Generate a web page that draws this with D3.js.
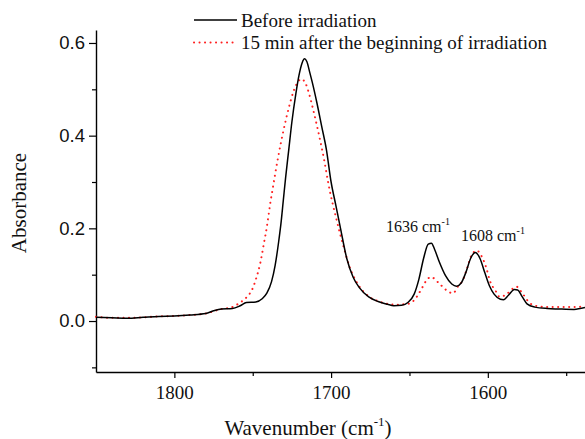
<!DOCTYPE html>
<html>
<head>
<meta charset="utf-8">
<script src="https://cdn.jsdelivr.net/npm/d3@7"></script>
<style>
  body { margin: 0; background: #fff; }
  .serif { font-family: "Liberation Serif", "Times New Roman", serif; }
  .sans { font-family: "Liberation Sans", Arial, sans-serif; }
</style>
</head>
<body>
<div id="chart"></div>
<script>
// before irradiation (black solid)
const beforeWn = [1850, 1840, 1830, 1820, 1810, 1800, 1790, 1780, 1775, 1770, 1763, 1758, 1754, 1748, 1744, 1741,
  1738, 1735.7, 1733.5, 1732, 1730.5, 1729, 1727, 1725, 1722.5, 1720.5, 1718.5, 1717, 1715.5, 1713.5, 1712, 1709,
  1706, 1703, 1700, 1697, 1694, 1690, 1686, 1682, 1676, 1670, 1664, 1660, 1655, 1651, 1647, 1644, 1641, 1638,
  1636, 1634, 1631, 1627, 1623, 1620, 1617, 1614, 1611, 1608, 1605, 1602, 1599, 1596, 1592, 1590, 1587, 1583,
  1581, 1578, 1575, 1570, 1562, 1555, 1545, 1538];
const beforeAbs = [0.008, 0.007, 0.006, 0.008, 0.010, 0.011, 0.013, 0.016, 0.022, 0.026, 0.027, 0.033, 0.040, 0.041, 0.048, 0.060,
  0.085, 0.12, 0.17, 0.21, 0.26, 0.31, 0.37, 0.43, 0.49, 0.53, 0.557, 0.566, 0.56, 0.535, 0.515, 0.47,
  0.42, 0.37, 0.30, 0.25, 0.20, 0.135, 0.095, 0.072, 0.052, 0.042, 0.036, 0.033, 0.034, 0.040, 0.058, 0.09, 0.135, 0.166,
  0.168, 0.155, 0.128, 0.098, 0.080, 0.075, 0.082, 0.105, 0.135, 0.148, 0.135, 0.105, 0.076, 0.058, 0.047, 0.046, 0.055, 0.068,
  0.067, 0.052, 0.037, 0.030, 0.027, 0.026, 0.025, 0.029];

// 15 min after the beginning of irradiation (red dotted)
const afterWn = [1850, 1840, 1830, 1820, 1810, 1800, 1790, 1780, 1775, 1770, 1764, 1758, 1753.7, 1750.5, 1748, 1745,
  1743, 1741, 1739, 1736.8, 1734, 1730.4, 1727, 1723.5, 1721, 1719, 1716.6, 1714, 1711, 1707, 1704, 1701.7,
  1696.4, 1692, 1688, 1683, 1676, 1670, 1664, 1658, 1654, 1649.7, 1645.4, 1642.2, 1639.5, 1636.3, 1631, 1626.6,
  1622.3, 1618.9, 1616, 1613.6, 1610.4, 1607, 1604, 1601, 1598.7, 1595, 1592.4, 1588, 1584, 1581.7, 1578, 1573,
  1568, 1560, 1550, 1538];
const afterAbs = [0.009, 0.007, 0.007, 0.008, 0.010, 0.011, 0.013, 0.016, 0.021, 0.026, 0.029, 0.040, 0.052, 0.067, 0.09, 0.128,
  0.165, 0.203, 0.25, 0.295, 0.35, 0.411, 0.46, 0.50, 0.517, 0.522, 0.515, 0.49, 0.45, 0.39, 0.34, 0.296,
  0.217, 0.16, 0.115, 0.08, 0.053, 0.043, 0.037, 0.035, 0.036, 0.038, 0.052, 0.070, 0.086, 0.095, 0.081, 0.067,
  0.060, 0.075, 0.088, 0.11, 0.142, 0.152, 0.14, 0.115, 0.087, 0.065, 0.052, 0.058, 0.07, 0.074, 0.06, 0.038,
  0.032, 0.030, 0.030, 0.031];

const xMajor = [1800, 1700, 1600];
const xMinor = [1750, 1650, 1550];
const yMajor = [0.0, 0.2, 0.4, 0.6];
const yMinor = [-0.1, 0.1, 0.3, 0.5];

const legendLabels = ['Before irradiation', '15 min after the beginning of irradiation'];
const peakLabels = [{ wn: 1636, text: '1636 cm' }, { wn: 1608, text: '1608 cm' }];

const W = 585, H = 439;
const margin = { top: 30, right: 0, bottom: 67, left: 96 };

const svg = d3.select('#chart').append('svg')
    .attr('width', W)
    .attr('height', H);

const x = d3.scaleLinear().domain([1850, 1538]).range([margin.left, W - margin.right]);
const y = d3.scaleLinear().domain([-0.110, 0.628]).range([H - margin.bottom, margin.top]);

const line = d3.line()
    .x(d => x(d[0]))
    .y(d => y(d[1]))
    .curve(d3.curveMonotoneX);

const beforeData = d3.zip(beforeWn, beforeAbs);
const afterData = d3.zip(afterWn, afterAbs);

// axes
const xAxis = svg.append('g')
    .attr('transform', `translate(0,${H - margin.bottom})`)
    .call(d3.axisBottom(x).tickValues(xMajor).tickSize(6).tickSizeOuter(0).tickFormat(d3.format('d')));
xAxis.selectAll('text').attr('class', 'serif').style('font-size', '19px').attr('dy', '1.05em').attr('y', 7);
xAxis.append('g')
    .call(d3.axisBottom(x).tickValues(xMinor).tickSize(4).tickSizeOuter(0).tickFormat(''))
    .select('.domain').remove();

const yAxis = svg.append('g')
    .attr('transform', `translate(${margin.left},0)`)
    .call(d3.axisLeft(y).tickValues(yMajor).tickSize(7).tickSizeOuter(0).tickFormat(d3.format('.1f')));
yAxis.selectAll('text').attr('class', 'sans').style('font-size', '18.5px').attr('x', -11);
yAxis.append('g')
    .call(d3.axisLeft(y).tickValues(yMinor).tickSize(4).tickSizeOuter(0).tickFormat(''))
    .select('.domain').remove();

svg.selectAll('.domain').attr('stroke-width', 1.4);
svg.selectAll('.tick line').attr('stroke-width', 1.2);
svg.selectAll('.tick text').attr('fill', '#111');

// curves
svg.append('path')
    .datum(afterData)
    .attr('d', line)
    .attr('fill', 'none')
    .attr('stroke', '#ff2020')
    .attr('stroke-width', 2)
    .attr('stroke-linecap', 'round')
    .attr('stroke-dasharray', '0.1 5.4');

svg.append('path')
    .datum(beforeData)
    .attr('d', line)
    .attr('fill', 'none')
    .attr('stroke', '#000')
    .attr('stroke-width', 1.5);

// axis titles
const xTitle = svg.append('text')
    .attr('class', 'serif')
    .attr('x', 308)
    .attr('y', 435)
    .attr('text-anchor', 'middle')
    .style('font-size', '21px')
    .attr('fill', '#111');
xTitle.append('tspan').text('Wavenumber (cm');
xTitle.append('tspan').attr('dy', -9).style('font-size', '13px').text('-1');
xTitle.append('tspan').attr('dy', 9).text(')');

svg.append('text')
    .attr('class', 'serif')
    .attr('transform', 'translate(26,203) rotate(-90)')
    .attr('text-anchor', 'middle')
    .style('font-size', '21px')
    .attr('fill', '#111')
    .text('Absorbance');

// peak labels
const peakPos = [{ x: 386, y: 232 }, { x: 461, y: 241 }];
peakLabels.forEach((p, i) => {
    const t = svg.append('text')
        .attr('class', 'serif')
        .attr('x', peakPos[i].x)
        .attr('y', peakPos[i].y)
        .style('font-size', '16px')
        .attr('fill', '#111');
    t.append('tspan').text(p.text);
    t.append('tspan').attr('dy', -7).style('font-size', '10px').text('-1');
});

// legend
const legend = svg.append('g');
legendLabels.forEach((label, i) => {
    const ly = 20 + i * 22.5;
    legend.append('line')
        .attr('x1', 194).attr('x2', 237)
        .attr('y1', ly).attr('y2', ly)
        .attr('stroke', i === 0 ? '#000' : '#ff2020')
        .attr('stroke-width', i === 0 ? 1.5 : 2)
        .attr('stroke-linecap', i === 0 ? 'butt' : 'round')
        .attr('stroke-dasharray', i === 0 ? null : '0.1 5.4');
    legend.append('text')
        .attr('class', 'serif')
        .attr('x', 241)
        .attr('y', ly + 6.5)
        .style('font-size', '19px')
        .attr('fill', '#111')
        .text(label);
});
</script>
</body>
</html>
